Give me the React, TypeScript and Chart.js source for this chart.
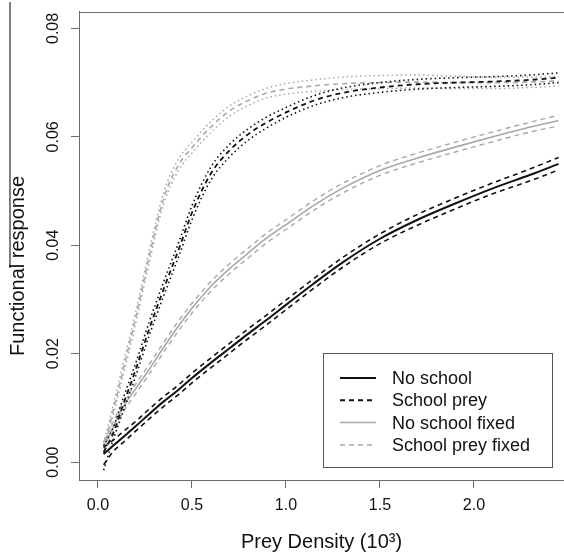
import React, { useEffect, useRef } from 'react';
import { Chart, registerables } from 'chart.js';

Chart.register(...registerables);

// ---------- data ----------
const xs = [0.03, 0.08, 0.13, 0.2, 0.27, 0.35, 0.43, 0.5, 0.6, 0.7, 0.8, 0.9, 1.0, 1.15, 1.3, 1.5, 1.7, 1.9, 2.1, 2.3, 2.45];

const noSchool = [0.0015, 0.0030, 0.0045, 0.0066, 0.0088, 0.0112, 0.0134, 0.0155, 0.0183, 0.0210, 0.0237, 0.0263, 0.0290, 0.0330, 0.0368, 0.0412, 0.0447, 0.0477, 0.0505, 0.0530, 0.0550];
const noSchoolHi = [0.0027, 0.0040, 0.0055, 0.0075, 0.0097, 0.0121, 0.0143, 0.0164, 0.0192, 0.0219, 0.0246, 0.0272, 0.0299, 0.0339, 0.0377, 0.0421, 0.0457, 0.0487, 0.0515, 0.0541, 0.0562];
const noSchoolLo = [-0.0005, 0.0019, 0.0035, 0.0057, 0.0079, 0.0103, 0.0125, 0.0146, 0.0174, 0.0201, 0.0228, 0.0254, 0.0281, 0.0321, 0.0359, 0.0403, 0.0437, 0.0467, 0.0495, 0.0519, 0.0539];

const schoolPrey = [0.0018, 0.0052, 0.0102, 0.0170, 0.0243, 0.0320, 0.0393, 0.0460, 0.0532, 0.0575, 0.0605, 0.0627, 0.0645, 0.0667, 0.0681, 0.0691, 0.0697, 0.0700, 0.0702, 0.0705, 0.0709];
const schoolPreyHi = [0.0030, 0.0063, 0.0114, 0.0182, 0.0256, 0.0333, 0.0406, 0.0473, 0.0544, 0.0586, 0.0615, 0.0637, 0.0654, 0.0676, 0.0690, 0.0700, 0.0706, 0.0709, 0.0711, 0.0714, 0.0718];
const schoolPreyLo = [-0.0015, 0.0040, 0.0090, 0.0158, 0.0231, 0.0307, 0.0380, 0.0447, 0.0520, 0.0563, 0.0594, 0.0617, 0.0636, 0.0658, 0.0672, 0.0682, 0.0688, 0.0691, 0.0693, 0.0696, 0.0700];

const noSchoolFixed = [0.0028, 0.0064, 0.0099, 0.0135, 0.0170, 0.0212, 0.0252, 0.0284, 0.0324, 0.0357, 0.0386, 0.0414, 0.0438, 0.0474, 0.0505, 0.0538, 0.0561, 0.0581, 0.0600, 0.0618, 0.0630];
const noSchoolFixedHi = [0.0037, 0.0073, 0.0108, 0.0144, 0.0179, 0.0221, 0.0261, 0.0293, 0.0333, 0.0366, 0.0395, 0.0423, 0.0447, 0.0483, 0.0514, 0.0547, 0.0570, 0.0590, 0.0609, 0.0627, 0.0640];
const noSchoolFixedLo = [0.0019, 0.0055, 0.0090, 0.0126, 0.0161, 0.0203, 0.0243, 0.0275, 0.0315, 0.0348, 0.0377, 0.0405, 0.0429, 0.0465, 0.0496, 0.0529, 0.0552, 0.0572, 0.0591, 0.0609, 0.0620];

const schoolPreyFixed = [0.0025, 0.0094, 0.0165, 0.0265, 0.0375, 0.0487, 0.0549, 0.0580, 0.0618, 0.0648, 0.0667, 0.0681, 0.0688, 0.0694, 0.0698, 0.0700, 0.0701, 0.0700, 0.0700, 0.0701, 0.0703];
const schoolPreyFixedHi = [0.0035, 0.0104, 0.0176, 0.0276, 0.0386, 0.0498, 0.0560, 0.0590, 0.0628, 0.0657, 0.0676, 0.0690, 0.0698, 0.0705, 0.0710, 0.0713, 0.0714, 0.0712, 0.0710, 0.0710, 0.0711];
const schoolPreyFixedLo = [0.0015, 0.0084, 0.0154, 0.0254, 0.0364, 0.0477, 0.0539, 0.0570, 0.0608, 0.0638, 0.0658, 0.0672, 0.0679, 0.0684, 0.0687, 0.0689, 0.0690, 0.0689, 0.0689, 0.0691, 0.0694];

const legendLabels = ['No school', 'School prey', 'No school fixed', 'School prey fixed'];
const xTicks = [0, 0.5, 1.0, 1.5, 2.0];
const yTicks = [0, 0.02, 0.04, 0.06, 0.08];
const xTitle = 'Prey Density (10\u00B3)';
const yTitle = 'Functional response';

// ---------- styles ----------
const FONT = '"Liberation Sans", Arial, Helvetica, sans-serif';
const BLACK = '#111111';
const GRAY = '#a8a8a8';
const AXIS = '#6c6c6c';
const SOLID: number[] = [];
const DASH = [5, 4];
const DOT = [1.5, 3];

Chart.defaults.font.family = FONT;

function series(label: string, ys: number[], color: string, dash: number[], width: number) {
  return {
    label,
    data: xs.map((x, i) => ({ x, y: ys[i] })),
    borderColor: color,
    backgroundColor: color,
    borderDash: dash,
    borderWidth: width,
    pointRadius: 0,
    fill: false,
    cubicInterpolationMode: 'monotone' as const,
  };
}

const legendStyles = [
  { color: BLACK, dash: SOLID, width: 2 },
  { color: BLACK, dash: DASH, width: 2 },
  { color: GRAY, dash: SOLID, width: 1.5 },
  { color: GRAY, dash: DASH, width: 1.5 },
];

const decorPlugin = {
  id: 'decor',
  afterDraw(chart: any) {
    const { ctx, chartArea: a } = chart;
    ctx.save();
    // top frame line
    ctx.strokeStyle = AXIS;
    ctx.lineWidth = 1;
    ctx.beginPath();
    ctx.moveTo(a.left, Math.round(a.top) + 0.5);
    ctx.lineTo(a.right, Math.round(a.top) + 0.5);
    ctx.stroke();
    // stray vertical line at far left
    ctx.strokeStyle = '#555555';
    ctx.lineWidth = 1.5;
    ctx.beginPath();
    ctx.moveTo(10, 2);
    ctx.lineTo(10, 268);
    ctx.stroke();
    ctx.restore();

    // y title
    ctx.save();
    ctx.translate(18, 266);
    ctx.rotate(-Math.PI / 2);
    ctx.font = `20px ${FONT}`;
    ctx.fillStyle = BLACK;
    ctx.textAlign = 'center';
    ctx.textBaseline = 'middle';
    ctx.fillText(yTitle, 0, 0);
    ctx.restore();

    // legend
    ctx.save();
    const bx = a.right - 241;
    const by = a.bottom - 127;
    const bw = 229;
    const bh = 114;
    ctx.fillStyle = '#ffffff';
    ctx.fillRect(bx, by, bw, bh);
    ctx.strokeStyle = '#555555';
    ctx.lineWidth = 1;
    ctx.strokeRect(bx + 0.5, by + 0.5, bw, bh);
    ctx.font = `18px ${FONT}`;
    ctx.textAlign = 'left';
    ctx.textBaseline = 'middle';
    legendLabels.forEach((lab, i) => {
      const y = by + 25 + i * 22.3;
      const st = legendStyles[i];
      ctx.strokeStyle = st.color;
      ctx.lineWidth = st.width;
      ctx.setLineDash(st.dash);
      ctx.beginPath();
      ctx.moveTo(bx + 17, y);
      ctx.lineTo(bx + 53, y);
      ctx.stroke();
      ctx.setLineDash([]);
      ctx.fillStyle = BLACK;
      ctx.fillText(lab, bx + 69, y + 1);
    });
    ctx.restore();
  },
};

export default function App() {
  const ref = useRef<HTMLCanvasElement | null>(null);

  useEffect(() => {
    if (!ref.current) return;
    const chart = new Chart(ref.current, {
      type: 'line',
      data: {
        datasets: [
          series('No school', noSchool, BLACK, SOLID, 2),
          series('No school hi', noSchoolHi, BLACK, DASH, 1.6),
          series('No school lo', noSchoolLo, BLACK, DASH, 1.6),
          series('School prey', schoolPrey, BLACK, DASH, 1.8),
          series('School prey hi', schoolPreyHi, BLACK, DOT, 1.6),
          series('School prey lo', schoolPreyLo, BLACK, DOT, 1.6),
          series('No school fixed', noSchoolFixed, GRAY, SOLID, 1.6),
          series('No school fixed hi', noSchoolFixedHi, GRAY, DASH, 1.4),
          series('No school fixed lo', noSchoolFixedLo, GRAY, DASH, 1.4),
          series('School prey fixed', schoolPreyFixed, GRAY, DASH, 1.6),
          series('School prey fixed hi', schoolPreyFixedHi, GRAY, DOT, 1.5),
          series('School prey fixed lo', schoolPreyFixedLo, GRAY, DOT, 1.5),
        ],
      },
      options: {
        animation: false,
        responsive: false,
        devicePixelRatio: 1,
        layout: { padding: { top: 10, right: 0, left: 0, bottom: 0 } },
        plugins: { legend: { display: false }, tooltip: { enabled: false }, title: { display: false } },
        scales: {
          x: {
            type: 'linear',
            min: -0.101,
            max: 2.479,
            afterBuildTicks: (s: any) => { s.ticks = xTicks.map((v) => ({ value: v })); },
            afterFit: (s: any) => { s.height = 76; },
            grid: { display: true, drawOnChartArea: false, drawTicks: true, tickLength: 8, color: AXIS, lineWidth: 1 },
            border: { display: true, color: AXIS, width: 1 },
            ticks: {
              font: { size: 16 },
              color: BLACK,
              padding: 8,
              maxRotation: 0,
              autoSkip: false,
              callback: (v: any) => Number(v).toFixed(1),
            },
            title: {
              display: true,
              text: xTitle,
              color: BLACK,
              font: { size: 20 },
              padding: { top: 0, bottom: 2 },
            },
          },
          y: {
            type: 'linear',
            min: -0.0033,
            max: 0.0831,
            afterBuildTicks: (s: any) => { s.ticks = yTicks.map((v) => ({ value: v })); },
            afterFit: (s: any) => { s.width = 79; },
            grid: { display: true, drawOnChartArea: false, drawTicks: true, tickLength: 8, color: AXIS, lineWidth: 1 },
            border: { display: true, color: AXIS, width: 1 },
            ticks: {
              font: { size: 16 },
              color: BLACK,
              minRotation: 90,
              maxRotation: 90,
              crossAlign: 'center',
              padding: 2,
              autoSkip: false,
              callback: (v: any) => Number(v).toFixed(2),
            },
          },
        },
      },
      plugins: [decorPlugin],
    } as any);
    return () => chart.destroy();
  }, []);

  return (
    <div style={{ position: 'fixed', left: 0, top: 0, width: 564, height: 556, background: '#ffffff', overflow: 'hidden' }}>
      <canvas ref={ref} width={564} height={556} style={{ display: 'block' }} />
    </div>
  );
}
